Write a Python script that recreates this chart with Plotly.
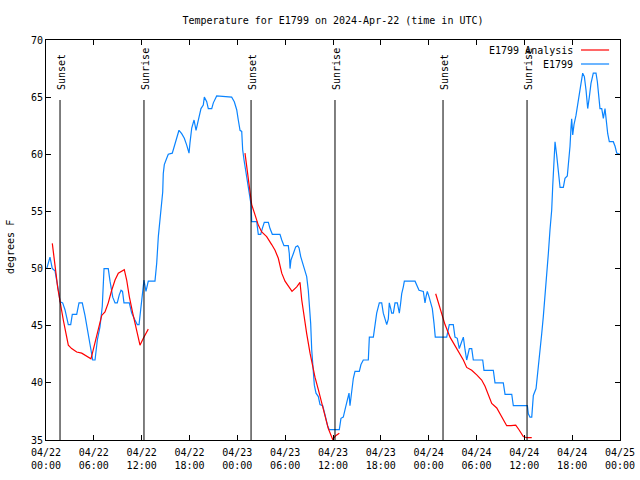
import plotly.graph_objects as go

# ---- data (hours since 2024-04-22 00:00 UTC, temperature in deg F) ----
obs_hours = [0.09, 0.50, 0.79, 1.13, 1.63, 1.76, 2.09, 2.38, 2.80, 3.10, 3.30, 3.85, 4.14, 4.55, 4.89,
             5.31, 5.64, 5.86, 6.15, 6.44, 6.77, 7.06, 7.28, 7.81, 8.03, 8.37, 8.66, 8.94, 9.19, 9.41,
             9.60, 9.78, 10.45, 10.75, 11.16, 11.45, 11.67, 12.00, 12.29, 12.54, 12.83, 13.67, 13.89,
             14.09, 14.30, 14.51, 14.64, 14.71, 14.84, 15.14, 15.34, 15.84, 16.09, 16.40, 16.68, 17.02,
             17.35, 17.65, 17.94, 18.06, 18.28, 18.57, 18.82, 18.98, 19.23, 19.44, 19.73, 19.86, 20.16,
             20.36, 20.79, 20.99, 21.41, 23.29, 23.62, 23.92, 24.12, 24.34, 24.55, 24.67, 24.84, 25.09,
             25.38, 25.59, 25.72, 25.80, 26.43, 26.63, 26.93, 27.13, 27.38, 27.89, 28.10, 28.39, 29.35,
             29.57, 29.85, 30.39, 30.52, 30.61, 30.73, 31.02, 31.32, 31.57, 31.74, 31.95, 32.20, 32.49,
             32.70, 32.90, 33.03, 33.20, 33.33, 33.53, 33.66, 33.87, 34.16, 34.37, 34.71, 35.00, 35.34,
             35.54, 36.79, 37.00, 37.29, 37.59, 37.85, 38.01, 38.13, 38.35, 38.55, 38.76, 39.30, 39.51,
             39.80, 40.43, 40.56, 41.06, 41.27, 41.48, 41.81, 42.11, 42.31, 42.52, 42.74, 42.94, 43.06,
             43.24, 43.36, 43.57, 43.78, 44.07, 44.19, 44.32, 44.49, 44.62, 44.82, 44.95, 46.29, 46.50,
             46.79, 47.33, 47.54, 47.67, 47.83, 48.04, 48.26, 48.46, 48.67, 48.83, 50.26, 50.59, 51.09,
             51.30, 51.59, 51.84, 52.14, 52.35, 52.56, 52.77, 53.10, 53.40, 53.60, 54.78, 54.94, 56.11,
             56.32, 57.36, 57.58, 58.42, 58.62, 60.38, 60.50, 60.71, 60.93, 61.13, 61.47, 61.68, 61.88,
             62.18, 62.38, 62.59, 62.81, 63.01, 63.22, 63.43, 63.56, 63.72, 63.85, 64.06, 64.26, 64.48,
             64.89, 65.10, 65.39, 65.61, 65.73, 65.86, 65.94, 66.07, 66.23, 66.48, 66.70, 66.90, 67.11,
             67.32, 67.53, 67.74, 67.95, 68.15, 68.36, 68.65, 68.99, 69.16, 69.37, 69.49, 69.71, 69.91,
             70.12, 70.33, 70.46, 70.66, 71.16, 71.38, 71.59, 72.00]
obs_temp = [50.0, 51.0, 50.0, 49.8, 47.8, 47.1, 47.0, 46.4, 45.1, 45.1, 46.0, 46.0, 47.0, 47.0, 45.9,
            44.2, 42.7, 42.0, 42.0, 43.75, 44.9, 46.7, 50.0, 50.0, 48.9, 47.5, 47.0, 47.0, 47.7, 48.1,
            48.0, 47.0, 47.0, 46.1, 45.5, 45.1, 45.1, 47.25, 49.0, 48.0, 48.9, 48.9, 50.5,
            52.8, 54.25, 55.6, 56.7, 58.3, 59.1, 59.65, 60.0, 60.1, 60.7, 61.4, 62.1, 61.8,
            61.4, 60.8, 60.1, 61.0, 62.3, 63.0, 62.1, 62.6, 63.3, 64.0, 64.3, 65.0, 64.6,
            64.0, 64.0, 64.5, 65.1, 65.0, 64.6, 63.9, 63.0, 62.1, 62.0, 60.4, 59.5, 58.5,
            57.2, 56.3, 55.6, 54.1, 54.1, 53.0, 53.0, 53.5, 54.05, 54.05, 53.5, 53.0, 53.0,
            52.5, 52.0, 52.0, 51.3, 50.0, 50.75, 51.3, 51.9, 52.0, 51.8, 51.05, 50.5, 49.9,
            49.3, 48.1, 47.0, 45.2, 42.9, 41.1, 39.8, 39.1, 38.8, 38.1, 38.0, 37.2, 36.2,
            35.9, 35.9, 36.9, 37.0, 37.9, 38.8, 39.1, 38.0, 39.4, 40.4, 41.0, 41.0, 41.6,
            42.0, 42.0, 44.0, 44.0, 45.2, 46.1, 47.0, 47.0, 46.1, 45.5, 45.1, 45.6, 47.0,
            46.5, 46.1, 46.1, 47.0, 47.0, 46.4, 46.1, 47.0, 47.8, 48.4, 48.9, 48.9, 48.6,
            48.1, 48.0, 47.0, 47.55, 48.0, 47.55, 47.1, 46.5, 45.2, 44.0, 44.0, 45.1, 45.1,
            44.0, 43.9, 43.0, 43.6, 44.0, 42.9, 42.0, 43.0, 43.0, 42.0, 42.0, 41.1, 41.1,
            40.0, 40.0, 39.0, 39.0, 38.0, 38.0, 37.3, 37.0, 37.0, 38.9, 39.5, 40.8, 42.6,
            44.3, 45.8, 47.5, 49.6, 51.3, 53.4, 55.1, 57.2, 59.8, 61.1, 59.9, 58.5, 57.1,
            57.1, 57.9, 58.1, 59.65, 60.7, 62.4, 63.1, 61.7, 62.6, 63.4, 64.5, 65.5, 66.2,
            67.1, 66.8, 65.6, 64.0, 65.0, 66.2, 67.1, 67.1, 66.35, 64.75, 64.0, 64.0, 63.15,
            64.0, 62.6, 61.8, 61.1, 61.1, 60.7, 60.1, 60.0]

ana_hours = [0.79, 1.00, 1.25, 1.47, 1.76, 1.97, 2.17, 2.51, 2.80, 3.22, 3.85, 4.48, 5.11, 5.64, 5.93,
             6.27, 6.56, 6.99, 7.40, 7.81, 8.24, 8.66, 9.07, 9.50, 9.82, 10.12, 10.45, 10.88, 11.38,
             11.79, 12.21, 12.54, 12.83, None,
             24.96, 25.18, 25.38, 25.59, 25.80, 26.22, 26.63, 27.06, 27.68, 28.31, 28.73, 29.14, 29.57,
             29.98, 30.39, 30.86, 31.45, 31.86, 32.08, 32.36, 32.70, 33.12, 33.41, 33.74, 34.16, 34.58,
             35.00, 35.41, 35.96, 36.38, 36.79, None,
             48.88, 49.21, 49.64, 50.05, 50.68, 51.09, 51.72, 52.35, 52.77, 53.40, 54.03, 54.65, 55.07,
             55.48, 55.91, 56.54, 56.95, 57.36, 57.79, 58.33, 58.92, 59.33, 59.87, 60.30, 60.93]
ana_temp = [52.2, 51.2, 49.6, 48.3, 47.0, 46.4, 45.5, 44.3, 43.3, 43.0, 42.7, 42.6, 42.35, 42.1, 42.9,
            43.9, 44.6, 45.9, 46.2, 47.0, 48.1, 49.0, 49.6, 49.8, 49.9, 49.0, 47.55, 46.1, 44.6,
            43.3, 43.9, 44.3, 44.7, None,
            60.1, 58.9, 58.0, 56.9, 55.6, 54.7, 53.8, 53.2, 52.8, 52.1, 51.6, 50.9, 49.6,
            48.9, 48.5, 48.0, 48.4, 48.8, 47.25, 45.8, 44.3, 42.6, 41.6, 40.5, 39.4, 38.2,
            37.0, 36.0, 35.05, 35.4, 35.6, None,
            47.8, 47.0, 45.9, 45.1, 44.0, 43.5, 42.7, 42.0, 41.35, 41.1, 40.7, 40.25, 39.7,
            38.9, 38.2, 37.8, 37.3, 36.75, 36.25, 36.25, 36.3, 35.9, 35.3, 35.2, 35.2]

event_hours = [1.76, 12.29, 25.72, 36.25, 49.80, 60.34]
event_labels = ["Sunset", "Sunrise", "Sunset", "Sunrise", "Sunset", "Sunrise"]

tick_hours = [0, 6, 12, 18, 24, 30, 36, 42, 48, 54, 60, 66, 72]
tick_labels = ["04/22<br>00:00", "04/22<br>06:00", "04/22<br>12:00", "04/22<br>18:00",
               "04/23<br>00:00", "04/23<br>06:00", "04/23<br>12:00", "04/23<br>18:00",
               "04/24<br>00:00", "04/24<br>06:00", "04/24<br>12:00", "04/24<br>18:00",
               "04/25<br>00:00"]
y_ticks = [35, 40, 45, 50, 55, 60, 65, 70]

series_names = ["E1799 Analysis", "E1799"]
series_colors = ["#ff0000", "#0a84ff"]

FONT = "DejaVu Sans Mono"

fig = go.Figure()
fig.add_trace(go.Scatter(x=obs_hours, y=obs_temp, mode="lines", name=series_names[1],
                         line=dict(color=series_colors[1], width=1.2), showlegend=False))
fig.add_trace(go.Scatter(x=ana_hours, y=ana_temp, mode="lines", name=series_names[0],
                         line=dict(color=series_colors[0], width=1.2), showlegend=False,
                         connectgaps=False))

shapes = []
annotations = []
for h, lab in zip(event_hours, event_labels):
    shapes.append(dict(type="line", xref="x", yref="paper", x0=h, x1=h, y0=0, y1=0.85,
                       line=dict(color="black", width=1)))
    annotations.append(dict(x=h, y=0.87, xref="x", yref="paper", text=lab, textangle=-90,
                            showarrow=False, xanchor="center", yanchor="bottom", xshift=1,
                            font=dict(family=FONT, size=10, color="black")))

# manual legend (text left of sample line, gnuplot style)
leg_y = [0.975, 0.94]
for name, col, yy in zip(series_names, series_colors, leg_y):
    annotations.append(dict(x=0.9216, y=yy, xref="paper", yref="paper", text=name,
                            showarrow=False, xanchor="right", yanchor="middle",
                            font=dict(family=FONT, size=10, color="black")))
    shapes.append(dict(type="line", xref="paper", yref="paper", x0=0.932, x1=0.981,
                       y0=yy, y1=yy, line=dict(color=col, width=1.2)))

# y axis title placed like gnuplot's ylabel
annotations.append(dict(x=-0.0627, y=0.4825, xref="paper", yref="paper", text="degrees F",
                        textangle=-90, showarrow=False, xanchor="center", yanchor="middle",
                        font=dict(family=FONT, size=10, color="black")))

fig.update_layout(
    width=640, height=480,
    margin=dict(l=46, r=20, t=40, b=40, autoexpand=False),
    paper_bgcolor="white", plot_bgcolor="white",
    font=dict(family=FONT, size=10, color="black"),
    title=dict(text="Temperature for E1799 on 2024-Apr-22 (time in UTC)",
               x=(46 + 620) / 2 / 640, xanchor="center",
               y=1 - 20 / 480, yanchor="middle", yref="container",
               font=dict(family=FONT, size=10, color="black")),
    shapes=shapes, annotations=annotations,
    showlegend=False,
)
fig.update_xaxes(range=[0, 72], tickmode="array", tickvals=tick_hours, ticktext=tick_labels,
                 showgrid=False, zeroline=False, showline=True, linecolor="black", linewidth=1,
                 mirror="ticks", ticks="inside", ticklen=5, tickcolor="black", automargin=False,
                 ticklabelstandoff=3,
                 tickfont=dict(family=FONT, size=10))
fig.update_yaxes(range=[35, 70], tickmode="array", tickvals=y_ticks,
                 showgrid=False, zeroline=False, showline=True, linecolor="black", linewidth=1,
                 mirror="ticks", ticks="inside", ticklen=5, tickcolor="black", automargin=False,
                 tickfont=dict(family=FONT, size=10))

fig.write_html("out.html", config={"displayModeBar": False},
               post_script="document.body.style.margin='0px';")
